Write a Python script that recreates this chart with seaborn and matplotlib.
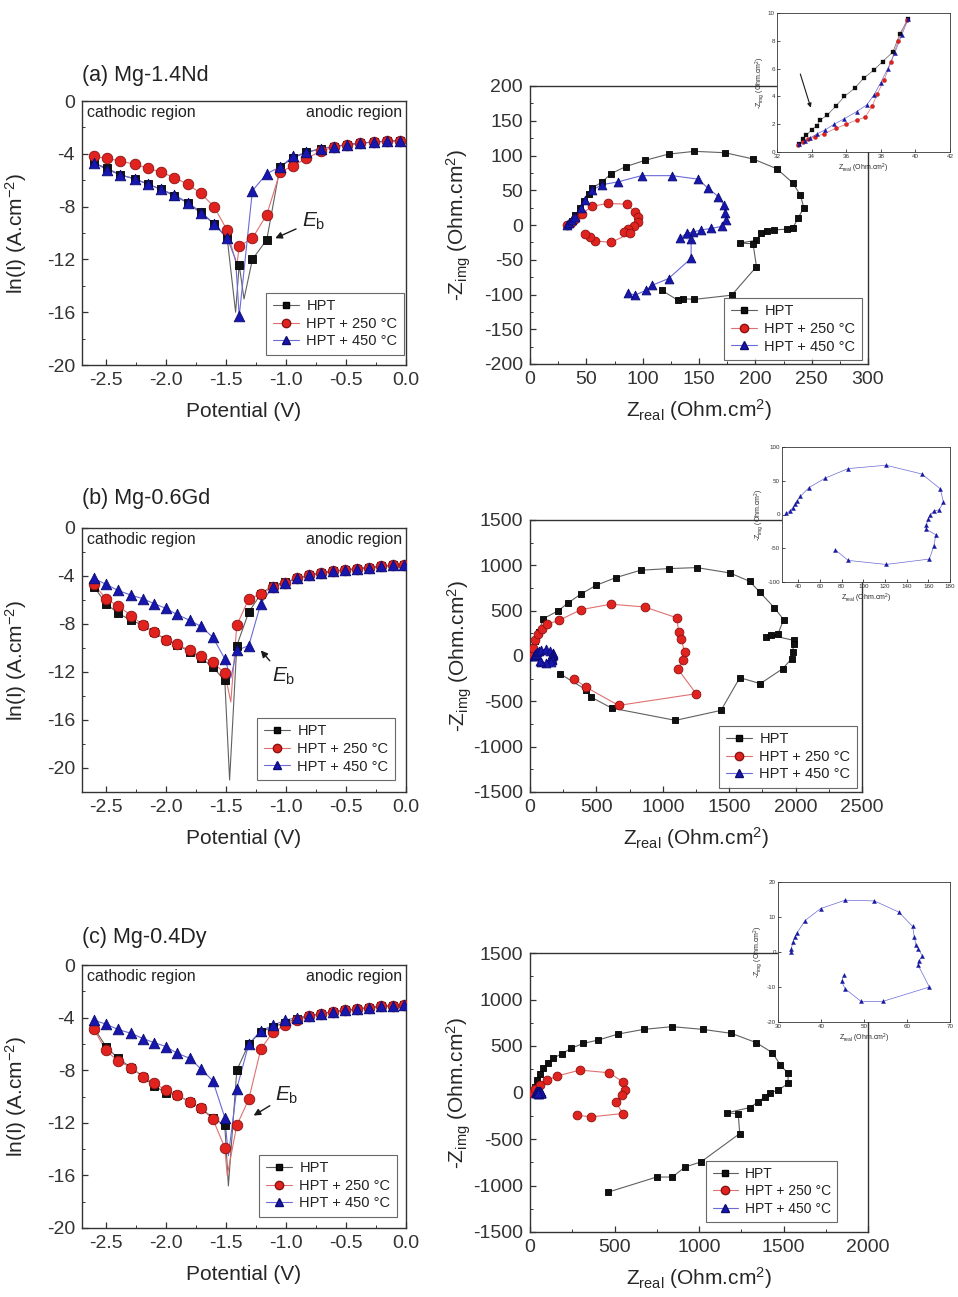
import pandas as pd
import seaborn as sns
import matplotlib.pyplot as plt
from matplotlib.lines import Line2D
from matplotlib.ticker import MultipleLocator

# ---------------- polarization curves: potential (V) vs ln(I) ----------------
pot_a = [-2.60, -2.49, -2.38, -2.26, -2.15, -2.04, -1.93, -1.82, -1.71, -1.60, -1.49, -1.39,
         -1.28, -1.16, -1.05, -0.94, -0.83, -0.71, -0.60, -0.49, -0.38, -0.27, -0.16, -0.05]
a_hpt = [-4.7, -5.1, -5.6, -5.9, -6.3, -6.7, -7.2, -7.7, -8.4, -9.3, -10.4, -12.4,
         -12.0, -10.5, -5.0, -4.3, -3.9, -3.6, -3.45, -3.3, -3.2, -3.1, -3.05, -3.0]
a_250 = [-4.2, -4.35, -4.55, -4.8, -5.1, -5.4, -5.8, -6.3, -7.0, -8.0, -9.8, -11.0,
         -10.4, -8.6, -5.4, -4.9, -4.35, -3.8, -3.5, -3.3, -3.2, -3.1, -3.05, -3.0]
a_450 = [-4.7, -5.2, -5.6, -5.9, -6.3, -6.7, -7.1, -7.7, -8.5, -9.3, -10.4, -16.3,
         -6.8, -5.5, -5.0, -4.2, -3.9, -3.6, -3.45, -3.3, -3.2, -3.1, -3.05, -3.0]
# extra line-only points (the sharp dips near Ecorr)
a_dips = {'hpt': ([-1.42, -1.35], [-16.0, -15.0]), '250': ([-1.41], [-12.5]), '450': ([-1.42], [-12.0])}

pot_b = [-2.60, -2.50, -2.40, -2.29, -2.19, -2.10, -2.00, -1.91, -1.80, -1.71, -1.61, -1.51, -1.41,
         -1.31, -1.21, -1.11, -1.01, -0.91, -0.81, -0.71, -0.61, -0.51, -0.41, -0.31, -0.21, -0.11, -0.02]
b_hpt = [-4.9, -6.3, -7.1, -7.7, -8.1, -8.7, -9.3, -9.75, -10.3, -10.8, -11.6, -12.7, -9.8,
         -7.0, -5.5, -4.8, -4.5, -4.2, -3.95, -3.75, -3.6, -3.5, -3.4, -3.3, -3.2, -3.1, -3.05]
b_250 = [-4.7, -5.9, -6.5, -7.3, -8.1, -8.7, -9.3, -9.7, -10.2, -10.7, -11.2, -12.1, -8.1,
         -5.9, -5.5, -4.9, -4.6, -4.2, -3.95, -3.75, -3.6, -3.5, -3.4, -3.3, -3.2, -3.1, -3.05]
b_450 = [-4.2, -4.7, -5.2, -5.6, -5.9, -6.3, -6.7, -7.2, -7.7, -8.2, -9.1, -10.9, -10.2,
         -9.8, -6.3, -4.9, -4.6, -4.2, -3.95, -3.75, -3.6, -3.5, -3.4, -3.3, -3.2, -3.1, -3.05]
b_dips = {'hpt': ([-1.47], [-21.0]), '250': ([-1.46], [-14.5]), '450': ([-1.46], [-12.5])}

pot_c = pot_b
c_hpt = [-4.8, -6.2, -7.1, -7.8, -8.5, -9.2, -9.7, -9.9, -10.4, -10.9, -11.6, -12.2, -8.0,
         -6.0, -5.1, -4.7, -4.4, -4.1, -3.9, -3.7, -3.55, -3.45, -3.35, -3.25, -3.15, -3.1, -3.05]
c_250 = [-4.9, -6.5, -7.3, -7.8, -8.5, -9.0, -9.5, -9.9, -10.4, -10.9, -11.7, -13.9, -12.2,
         -10.2, -6.4, -5.1, -4.6, -4.2, -3.9, -3.7, -3.55, -3.45, -3.35, -3.25, -3.15, -3.1, -3.05]
c_450 = [-4.2, -4.5, -4.9, -5.2, -5.6, -5.9, -6.2, -6.7, -7.1, -7.9, -8.8, -11.6, -9.4,
         -6.0, -5.0, -4.6, -4.2, -4.0, -3.85, -3.7, -3.55, -3.45, -3.35, -3.25, -3.15, -3.1, -3.05]
c_dips = {'hpt': ([-1.48], [-16.8]), '250': ([-1.49], [-16.0]), '450': ([-1.48], [-14.5])}

# ---------------- Nyquist data: Z_real, -Z_img (Ohm.cm2) ----------------
na_hpt_re = [34, 37, 40, 44, 48, 52, 55, 64, 72, 85, 102, 123, 146, 173, 198, 219, 233, 240, 243, 238,
             233, 228, 217, 210, 205, 201, 186, 198, 201, 179, 146, 136, 131, 117]
na_hpt_im = [0, 6, 14, 24, 35, 45, 53, 62, 74, 84, 93, 102, 106, 104, 95, 81, 61, 43, 25, 10,
             -5, -6, -7, -9, -12, -22, -26, -27, -60, -101, -107, -106, -108, -94]
na_250_re = [33, 36, 40, 46, 55, 69, 86, 93, 96, 96, 92, 87, 83, 89, 72, 58, 53, 49]
na_250_im = [0, 3, 8, 16, 27, 31, 30, 19, 12, 5, -2, -6, -10, -12, -25, -23, -17, -13]
na_450_re = [33, 35, 37, 40, 45, 49, 55, 64, 78, 99, 126, 149, 158, 167, 172, 173, 174, 170, 161,
             152, 145, 139, 133, 143, 143, 123, 108, 103, 93, 87]
na_450_im = [0, 3, 7, 12, 24, 36, 50, 58, 62, 71, 71, 66, 53, 41, 29, 17, 7, -2, -5,
             -7, -10, -12, -19, -20, -48, -77, -87, -94, -101, -98]

ia_hpt_re = [33.3, 33.5, 33.7, 34.0, 34.3, 34.5, 34.9, 35.4, 35.9, 36.5, 37.0, 37.6, 38.1, 38.7, 39.1, 39.6]
ia_hpt_im = [0.6, 0.9, 1.2, 1.6, 1.9, 2.3, 2.65, 3.3, 4.0, 4.6, 5.3, 5.9, 6.5, 7.2, 8.5, 9.6]
ia_250_re = [33.2, 33.5, 33.8, 34.2, 34.7, 35.4, 36.0, 36.6, 37.1, 37.5, 37.8, 38.2, 38.6, 39.0, 39.5]
ia_250_im = [0.5, 0.7, 0.9, 1.1, 1.3, 1.7, 2.0, 2.3, 2.5, 3.3, 4.2, 5.2, 6.5, 8.0, 9.5]
ia_450_re = [33.3, 33.6, 33.9, 34.3, 34.8, 35.3, 35.9, 36.6, 37.2, 37.6, 38.0, 38.4, 38.8, 39.2, 39.6]
ia_450_im = [0.6, 0.8, 1.0, 1.3, 1.6, 2.0, 2.4, 2.9, 3.4, 4.1, 5.0, 6.0, 7.1, 8.4, 9.6]

nb_hpt_re = [10, 20, 40, 65, 100, 211, 286, 381, 498, 647, 833, 1045, 1256, 1505, 1654, 1729, 1841, 1910,
             1866, 1779, 1816, 1985, 1985, 1978, 1970, 1903, 1734, 1580, 1438, 1095, 614, 460, 420, 224]
nb_hpt_im = [0, 80, 170, 260, 412, 497, 585, 681, 780, 865, 946, 964, 975, 916, 824, 707, 530, 401,
             239, 215, 228, 173, 136, 44, -29, -140, -305, -239, -600, -710, -574, -453, -370, -195]
nb_250_re = [10, 25, 37, 62, 87, 130, 219, 386, 609, 863, 1107, 1119, 1139, 1164, 1152, 1112, 1251, 667, 423, 331]
nb_250_im = [0, 90, 173, 247, 302, 350, 394, 512, 571, 541, 420, 265, 191, 44, -48, -140, -416, -545, -345, -250]
ib_re = [29, 32, 35, 37, 39, 42, 50, 65, 86, 121, 154, 171, 174, 170, 165, 162, 160, 158, 158, 167, 165, 161, 121, 86, 74]
ib_im = [1.5, 5, 10, 15, 20, 27, 40, 54, 68, 73, 60, 38, 18, 7, 5, 0, -7, -16, -22, -30, -47, -66, -74, -68, -52]

nc_hpt_re = [20, 30, 43, 59, 79, 104, 134, 187, 242, 315, 404, 522, 674, 841, 1021, 1192, 1340, 1434, 1482,
             1527, 1527, 1468, 1419, 1389, 1350, 1300, 1166, 1232, 1241, 1011, 917, 843, 749, 463]
nc_hpt_im = [0, 61, 133, 198, 259, 315, 367, 413, 474, 528, 564, 629, 679, 708, 679, 636, 535, 428, 295,
             205, 97, 25, -4, -47, -101, -162, -219, -230, -442, -747, -801, -909, -909, -1071]
nc_250_re = [10, 30, 59, 100, 158, 296, 469, 548, 562, 542, 508, 548, 361, 276]
nc_250_im = [0, 43, 79, 130, 176, 241, 212, 115, 25, -29, -101, -226, -262, -244]
ic_re = [33, 33.1, 33.5, 33.9, 34.4, 36.3, 39.9, 45.6, 52.4, 58.1, 61.3, 61.7, 62.1, 62.6, 63.6,
         62.7, 62.6, 65.2, 54.4, 49.3, 45.6, 44.8, 45.3]
ic_im = [0, 1, 2.9, 4.3, 5.4, 9.0, 12.4, 14.8, 14.6, 11.4, 7.3, 4.3, 1.9, 1.0, -1.2,
         -2.6, -3.8, -10, -14.1, -14.1, -10.5, -8.4, -6.7]

STY = {
    'hpt': dict(m='s', fc='#111111', ec='#000000', lc='#606060', label='HPT', k=0.75),
    '250': dict(m='o', fc='#e0231f', ec='#8a1212', lc='#e07070', label='HPT + 250 °C', k=1.0),
    '450': dict(m='^', fc='#1717b0', ec='#0b0b70', lc='#6a6ad8', label='HPT + 450 °C', k=1.0),
}

sns.set_theme(style='ticks')
plt.rcParams['font.family'] = ['Liberation Sans', 'DejaVu Sans']
plt.rcParams['mathtext.fontset'] = 'custom'
plt.rcParams['mathtext.rm'] = 'Liberation Sans'
plt.rcParams['mathtext.it'] = 'Liberation Sans:italic'
plt.rcParams['mathtext.default'] = 'regular'
plt.rcParams['axes.unicode_minus'] = False
plt.rcParams['axes.edgecolor'] = '#333333'
plt.rcParams['text.color'] = '#222222'
plt.rcParams['xtick.color'] = '#333333'
plt.rcParams['ytick.color'] = '#333333'

W, H = 958, 1297
fig = plt.figure(figsize=(W / 100, H / 100), dpi=100)
fig.patch.set_facecolor('white')


def add_ax(l, t, r, b):
    return fig.add_axes([l / W, 1 - b / H, (r - l) / W, (b - t) / H])


def style_ax(ax, xmaj, ymaj, fs=14, small=False):
    ax.xaxis.set_major_locator(MultipleLocator(xmaj))
    ax.yaxis.set_major_locator(MultipleLocator(ymaj))
    if not small:
        ax.xaxis.set_minor_locator(MultipleLocator(xmaj / 2))
        ax.yaxis.set_minor_locator(MultipleLocator(ymaj / 2))
    ax.tick_params(which='major', direction='in', length=2 if small else 4, width=0.6 if small else 0.9,
                   labelsize=fs, pad=1.5 if small else 5)
    ax.tick_params(which='minor', direction='in', length=2.5, width=0.7)
    for s in ax.spines.values():
        s.set_linewidth(0.6 if small else 1.0)


def legend(ax, anchor, fs=10.5):
    hs = [Line2D([0], [0], color=STY[k]['lc'], lw=0.8, marker=STY[k]['m'], mfc=STY[k]['fc'],
                 mec=STY[k]['ec'], ms=6 * STY[k]['k']) for k in STY]
    lg = ax.legend(hs, [STY[k]['label'] for k in STY], loc='lower right', bbox_to_anchor=anchor,
                   borderaxespad=0, fontsize=fs, frameon=True, fancybox=False, edgecolor='#444444',
                   labelspacing=0.25, handlelength=1.8, handletextpad=0.5, borderpad=0.45)
    lg.get_frame().set_linewidth(0.8)


def polar(ax, pot, curves, dips, ylim, title, title_y, eb_text, eb_tip):
    for key, vals in curves.items():
        st = STY[key]
        dv, di = dips[key]
        line = pd.DataFrame({'V': list(pot) + dv, 'I': list(vals) + di}).sort_values('V')
        sns.lineplot(data=line, x='V', y='I', sort=False, estimator=None, color=st['lc'], lw=0.8, ax=ax)
        sns.scatterplot(x=pot, y=vals, marker=st['m'], s=58 * st['k'] ** 2, color=st['fc'],
                        edgecolor=st['ec'], linewidth=0.6, ax=ax, zorder=3)
    ax.set_xlim(-2.7, 0.0)
    ax.set_ylim(*ylim)
    style_ax(ax, 0.5, 4)
    ax.set_xlabel('Potential (V)', fontsize=15)
    ax.set_ylabel('ln(I) (A.cm$^{-2}$)', fontsize=15)
    ax.xaxis.set_label_coords(0.5, -0.14)
    ax.yaxis.set_label_coords(-0.165, 0.5)
    ax.text(0.015, 0.955, 'cathodic region', transform=ax.transAxes, fontsize=11.5, va='center', ha='left')
    ax.text(0.988, 0.955, 'anodic region', transform=ax.transAxes, fontsize=11.5, va='center', ha='right')
    ax.annotate('$\\mathit{E}_b$', xy=eb_tip, xytext=eb_text, fontsize=15, ha='center', va='center',
                arrowprops=dict(arrowstyle='-|>', color='k', lw=1.0, shrinkA=2, shrinkB=0, mutation_scale=10))
    fig.text(82 / W, 1 - title_y / H, title, fontsize=15.5, ha='left', va='center')


def nyquist(ax, series, xlim, ylim, xmaj, ymaj, s=40, small=False):
    for key, (re, im) in series.items():
        st = STY[key]
        sns.lineplot(x=re, y=im, sort=False, estimator=None, color=st['lc'], lw=0.5 if small else 0.8, ax=ax)
        sns.scatterplot(x=re, y=im, marker=st['m'], s=s * st['k'] ** 2, color=st['fc'],
                        edgecolor=st['ec'], linewidth=0.2 if small else 0.6, ax=ax, zorder=3)
    ax.set_xlim(*xlim)
    ax.set_ylim(*ylim)
    if small:
        style_ax(ax, xmaj, ymaj, fs=4.5, small=True)
        ax.set_xlabel('Z$_{real}$ (Ohm.cm$^2$)', fontsize=5, labelpad=2)
        ax.set_ylabel('-Z$_{img}$ (Ohm.cm$^2$)', fontsize=5, labelpad=1)
    else:
        style_ax(ax, xmaj, ymaj)
        ax.set_xlabel('Z$_{real}$ (Ohm.cm$^2$)', fontsize=15)
        ax.set_ylabel('-Z$_{img}$ (Ohm.cm$^2$)', fontsize=15)
        ax.xaxis.set_label_coords(0.5, -0.12)
        ax.yaxis.set_label_coords(-0.17, 0.5)


# ---- row (a) ----
ax = add_ax(82, 101, 406, 365)
polar(ax, pot_a, {'hpt': a_hpt, '250': a_250, '450': a_450}, a_dips, (-20, 0),
      '(a) Mg-1.4Nd', 76, (-0.77, -9.1), (-1.09, -10.4))
legend(ax, (0.994, 0.038))

ax = add_ax(530, 86, 868, 364)
nyquist(ax, {'hpt': (na_hpt_re, na_hpt_im), '250': (na_250_re, na_250_im), '450': (na_450_re, na_450_im)},
        (0, 300), (-200, 200), 50, 50)
legend(ax, (0.982, 0.014))

ax = add_ax(777, 13, 950, 152)
nyquist(ax, {'hpt': (ia_hpt_re, ia_hpt_im), '250': (ia_250_re, ia_250_im), '450': (ia_450_re, ia_450_im)},
        (32, 42), (0, 10), 2, 2, s=9, small=True)
ax.annotate('', xy=(34.0, 3.0), xytext=(33.3, 5.8),
            arrowprops=dict(arrowstyle='-|>', color='k', lw=0.8, mutation_scale=6))

# ---- row (b) ----
ax = add_ax(82, 528, 406, 792)
polar(ax, pot_b, {'hpt': b_hpt, '250': b_250, '450': b_450}, b_dips, (-22, 0),
      '(b) Mg-0.6Gd', 498, (-1.02, -12.4), (-1.21, -10.2))
legend(ax, (0.966, 0.045))

ax = add_ax(530, 520, 862, 792)
nyquist(ax, {'hpt': (nb_hpt_re, nb_hpt_im), '250': (nb_250_re, nb_250_im), '450': (ib_re, ib_im)},
        (0, 2500), (-1500, 1500), 500, 500)
legend(ax, (0.985, 0.015))

ax = add_ax(782, 447, 950, 582)
nyquist(ax, {'450': (ib_re, ib_im)}, (25, 180), (-100, 100), 20, 50, s=9, small=True)

# ---- row (c) ----
ax = add_ax(82, 965, 406, 1228)
polar(ax, pot_c, {'hpt': c_hpt, '250': c_250, '450': c_450}, c_dips, (-20, 0),
      '(c) Mg-0.4Dy', 937, (-0.99, -9.9), (-1.27, -11.45))
legend(ax, (0.972, 0.042))

ax = add_ax(530, 953, 868, 1232)
nyquist(ax, {'hpt': (nc_hpt_re, nc_hpt_im), '250': (nc_250_re, nc_250_im), '450': (ic_re, ic_im)},
        (0, 2000), (-1500, 1500), 500, 500)
legend(ax, (0.908, 0.036), fs=10)

ax = add_ax(778, 882, 950, 1022)
nyquist(ax, {'450': (ic_re, ic_im)}, (30, 70), (-20, 20), 10, 10, s=9, small=True)

fig.savefig('out.png', dpi=100, facecolor='white')
